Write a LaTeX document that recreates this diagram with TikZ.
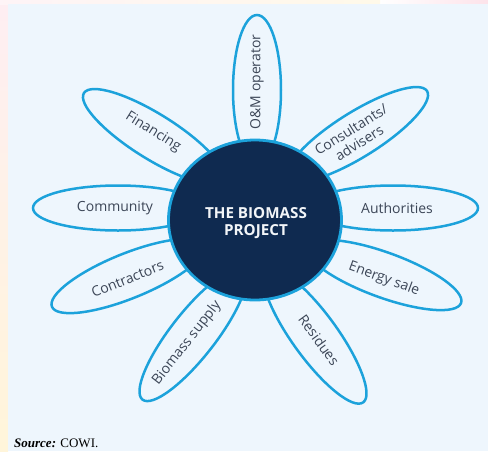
\documentclass[tikz,border=0pt]{standalone}
\usepackage{fontspec}
\setmainfont{Open Sans}
\newfontfamily\srcfont{Liberation Serif}
\usetikzlibrary{shapes.geometric}
\definecolor{panel}{HTML}{EEF6FD}
\definecolor{petalblue}{HTML}{1CA2DB}
\definecolor{navy}{HTML}{0F2A50}
\definecolor{txt}{HTML}{3C4657}
\definecolor{hubtxt}{HTML}{F2F5F8}
\definecolor{pagepink}{HTML}{FDE3EA}
\definecolor{pageyel}{HTML}{FFF5DA}
\begin{document}
\begin{tikzpicture}[x=1pt,y=-1pt,
  petal/.style={draw=petalblue, line width=2.5pt, fill=panel, ellipse, inner sep=0pt,
    minimum width=164pt, minimum height=45pt},
  ptext/.style={text=txt, font=\fontsize{14}{15.5}\selectfont, align=center, inner sep=0pt},
  hub/.style={draw=petalblue, line width=2.8pt, fill=navy, ellipse, inner sep=0pt,
    minimum width=173pt, minimum height=160pt},
  hubtext/.style={text=hubtxt, font=\fontsize{15.2}{16.5}\selectfont\bfseries, align=center, inner sep=0pt}
]
\useasboundingbox (0,0) rectangle (488,451);
% page background
\fill[white] (0,0) rectangle (488,451);
\shade[top color=pagepink!60, bottom color=pageyel] (0,0) rectangle (8,451);
\shade[left color=white, right color=pagepink] (380,0) rectangle (488,4);
\shade[left color=pagepink!40, right color=pageyel!60] (0,0) rectangle (380,4);
\fill[panel] (8,4) rectangle (488,451);
% petals
\node[petal, rotate=90, minimum width=150pt, minimum height=48pt] (om) at (257,90) {};
\node[petal, rotate=32] (cons) at (357.5,134.5) {};
\node[petal, minimum width=170pt] (auth) at (393,208) {};
\node[petal, rotate=-20] (energy) at (384,275) {};
\node[petal, rotate=-54] (res) at (315,336) {};
\node[petal, rotate=52] (bio) at (193,335) {};
\node[petal, rotate=22] (contr) at (128,276) {};
\node[petal, minimum width=170pt] (comm) at (118,208) {};
\node[petal, rotate=-32] (fin) at (153.5,136.5) {};
% hub
\node[hub] (hub) at (255,220) {};
% texts
\node[ptext, rotate=90] (omT) at (257,82) {O\&M operator};
\node[ptext, rotate=32] (consT) at (355,136) {Consultants/\\advisers};
\node[ptext] (authT) at (397,208) {Authorities};
\node[ptext, rotate=-20] (energyT) at (384,279) {Energy sale};
\node[ptext, rotate=-54] (resT) at (319,340) {Residues};
\node[ptext, rotate=52] (bioT) at (187,343) {Biomass supply};
\node[ptext, rotate=22] (contrT) at (127.5,279) {Contractors};
\node[ptext] (commT) at (115,208) {Community};
\node[ptext, rotate=-32] (finT) at (153,132) {Financing};
\node[hubtext] (hubT) at (256,223) {THE BIOMASS\\PROJECT};
% source
\node[anchor=west, inner sep=0pt, font=\srcfont\fontsize{13}{15}\selectfont] (src) at (14,443)
  {\textbf{\textit{Source:}} COWI.};
\end{tikzpicture}
\end{document}
